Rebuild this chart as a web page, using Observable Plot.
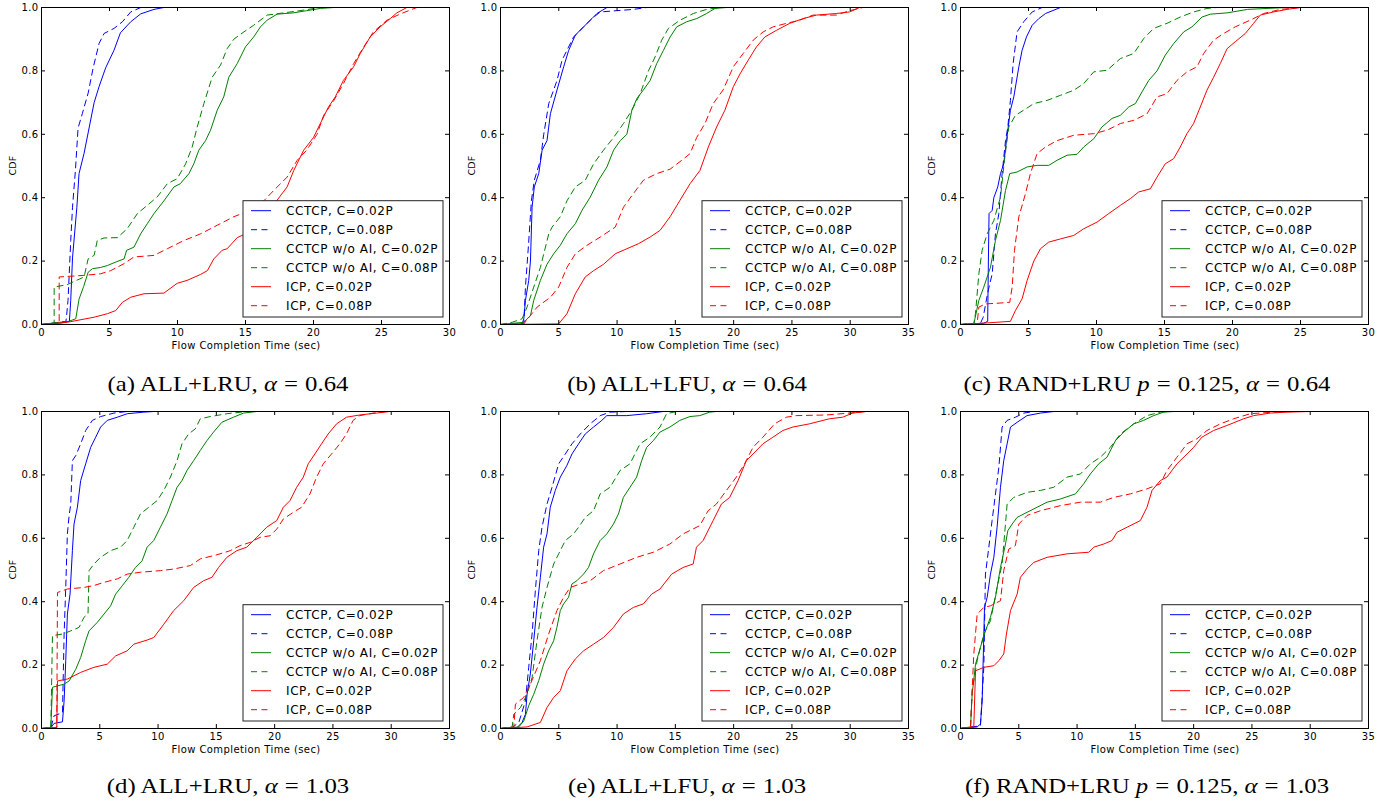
<!DOCTYPE html>
<html><head><meta charset="utf-8">
<script src="https://cdn.jsdelivr.net/npm/d3@7"></script>
<script src="https://cdn.jsdelivr.net/npm/@observablehq/plot@0.6"></script>
<style>
body{margin:0;background:#fff;}
#fig{position:relative;width:1399px;height:806px;overflow:hidden;background:#fff;}
.panel{position:absolute;}
.cap{position:absolute;font-family:"Liberation Serif","Times New Roman",serif;font-size:21px;line-height:21px;white-space:nowrap;transform:translateX(-50%) scaleX(1.18);transform-origin:50% 50%;color:#000;}
.cap .eq{display:inline-block;margin:0 6px;}
</style></head><body><div id="fig"></div><script>
// ---------- data ----------
const seriesNames = ["CCTCP, C=0.02P","CCTCP, C=0.08P","CCTCP w/o AI, C=0.02P","CCTCP w/o AI, C=0.08P","ICP, C=0.02P","ICP, C=0.08P"];
const panelCaptions = ["(a) ALL+LRU, α = 0.64","(b) ALL+LFU, α = 0.64","(c) RAND+LRU p = 0.125, α = 0.64","(d) ALL+LRU, α = 1.03","(e) ALL+LFU, α = 1.03","(f) RAND+LRU p = 0.125, α = 1.03"];
const panelXMax = [30,35,30,35,35,35];
const xTicks30 = [0,5,10,15,20,25,30];
const xTicks35 = [0,5,10,15,20,25,30,35];
const yTicks = [0,0.2,0.4,0.6,0.8,1.0];
const xLabel = "Flow Completion Time (sec)";
const yLabel = "CDF";

// (a) ALL+LRU, alpha=0.64
const a_c02 = [[0,0],[1.5,0.005],[2.05,0.01],[2.15,0.076],[2.28,0.21],[2.6,0.37],[2.76,0.476],[3.13,0.54],[3.5,0.62],[3.87,0.70],[4.23,0.75],[4.72,0.81],[5.33,0.865],[5.8,0.92],[6.56,0.955],[7.3,0.98],[8.27,0.994],[9.0,1.0]];
const a_c08 = [[0,0],[0.9,0.005],[1.8,0.01],[1.85,0.03],[1.95,0.076],[2.15,0.265],[2.28,0.37],[2.5,0.49],[2.69,0.62],[3.0,0.665],[3.43,0.73],[3.8,0.81],[4.23,0.886],[4.6,0.918],[5.33,0.934],[5.95,0.955],[6.56,0.986],[7.3,1.0]];
const a_n02 = [[0,0],[0.9,0.005],[2.0,0.01],[2.52,0.018],[2.76,0.08],[3.1,0.12],[3.43,0.165],[3.74,0.176],[4.35,0.18],[4.84,0.186],[5.46,0.197],[6.07,0.207],[6.26,0.234],[6.8,0.244],[7.29,0.286],[7.78,0.318],[8.27,0.35],[9.0,0.39],[9.74,0.434],[10.2,0.444],[10.84,0.476],[11.2,0.507],[11.57,0.55],[12.06,0.58],[12.43,0.613],[12.92,0.676],[13.4,0.718],[13.77,0.78],[14.39,0.823],[15.0,0.876],[15.6,0.907],[16.1,0.939],[16.59,0.96],[17.32,0.979],[18.5,0.983],[19.5,0.99],[20.5,0.997],[21.5,1.0]];
const a_n08 = [[0,0],[0.93,0.002],[0.93,0.118],[1.9,0.126],[3.13,0.15],[3.43,0.207],[3.87,0.218],[4.1,0.265],[4.6,0.273],[5.58,0.274],[6.3,0.302],[7.05,0.35],[7.78,0.376],[8.5,0.402],[9.25,0.444],[9.98,0.46],[10.6,0.507],[11.08,0.56],[11.45,0.623],[11.94,0.697],[12.55,0.78],[13.16,0.818],[13.65,0.87],[14.14,0.9],[14.88,0.923],[15.6,0.944],[16.59,0.976],[17.8,0.983],[19.0,0.99],[20.5,1.0]];
const a_i02 = [[0,0],[1.9,0.007],[3.87,0.023],[4.84,0.034],[5.46,0.044],[5.95,0.07],[6.56,0.086],[7.54,0.097],[9.0,0.099],[9.98,0.13],[10.7,0.139],[11.7,0.158],[12.2,0.17],[12.67,0.207],[13.28,0.234],[13.65,0.239],[14.39,0.274],[15.0,0.286],[15.6,0.318],[16.34,0.36],[17.32,0.392],[18.06,0.434],[18.55,0.486],[19.28,0.55],[20.0,0.59],[20.5,0.634],[21.1,0.686],[21.6,0.718],[22.2,0.77],[22.95,0.813],[23.44,0.855],[24.17,0.907],[24.9,0.939],[25.64,0.965],[26.13,0.983],[26.86,1.0]];
const a_i08 = [[0,0],[1.3,0.002],[1.3,0.15],[3.13,0.155],[4.35,0.16],[5.09,0.17],[6.07,0.192],[6.8,0.213],[8.27,0.218],[9.25,0.239],[10.47,0.265],[11.7,0.286],[12.92,0.313],[14.14,0.34],[15.37,0.36],[16.34,0.39],[17.08,0.423],[18.06,0.465],[18.8,0.518],[19.5,0.55],[20.26,0.6],[20.75,0.66],[21.5,0.707],[22.2,0.76],[22.95,0.823],[23.7,0.876],[24.4,0.923],[25.4,0.96],[26.4,0.98],[27.6,1.0]];

// (b) ALL+LFU, alpha=0.64
const b_c02 = [[0,0],[1.85,0.002],[2.0,0.018],[2.14,0.076],[2.42,0.139],[2.57,0.2],[2.71,0.37],[2.9,0.434],[3.28,0.476],[3.57,0.55],[3.99,0.58],[4.28,0.665],[4.85,0.74],[5.42,0.813],[5.85,0.865],[6.42,0.913],[7.13,0.939],[7.84,0.965],[8.27,0.981],[9.13,1.0]];
const b_c08 = [[0,0],[2.0,0.002],[2.14,0.118],[2.4,0.25],[2.65,0.39],[2.9,0.455],[3.42,0.518],[3.71,0.6],[4.14,0.697],[4.85,0.77],[5.28,0.834],[5.7,0.865],[6.27,0.907],[7.13,0.939],[7.84,0.965],[8.56,0.986],[9.98,0.99],[11.4,0.994],[12.55,1.0]];
const b_n02 = [[0,0],[2.0,0.007],[2.57,0.028],[2.85,0.076],[3.42,0.139],[3.99,0.19],[4.56,0.223],[5.13,0.25],[5.7,0.286],[6.42,0.318],[6.99,0.36],[7.7,0.402],[8.41,0.455],[9.13,0.497],[9.7,0.55],[10.27,0.58],[10.84,0.6],[11.27,0.676],[11.7,0.713],[12.26,0.74],[12.84,0.77],[13.4,0.823],[13.98,0.865],[14.55,0.907],[15.12,0.939],[15.97,0.955],[16.83,0.965],[17.68,0.981],[18.4,0.997],[19.4,1.0]];
const b_n08 = [[0,0],[1.0,0.007],[1.85,0.018],[2.28,0.055],[2.85,0.118],[3.42,0.18],[4.14,0.286],[4.42,0.307],[5.13,0.34],[5.7,0.39],[6.42,0.434],[7.27,0.455],[7.99,0.507],[8.84,0.55],[9.7,0.59],[10.55,0.634],[11.27,0.676],[11.98,0.728],[12.69,0.8],[13.26,0.844],[13.83,0.897],[14.4,0.934],[15.4,0.96],[16.54,0.981],[17.68,0.994],[18.8,1.0]];
const b_i02 = [[0,0],[4.99,0.002],[5.7,0.034],[6.42,0.097],[7.27,0.15],[7.99,0.17],[8.84,0.19],[9.84,0.223],[10.84,0.239],[11.84,0.255],[12.84,0.276],[13.69,0.297],[14.55,0.34],[15.4,0.392],[16.26,0.444],[17.11,0.486],[17.83,0.56],[18.54,0.623],[19.25,0.676],[19.97,0.75],[20.54,0.79],[21.25,0.834],[21.96,0.876],[22.68,0.907],[23.67,0.928],[24.81,0.95],[25.96,0.965],[27.1,0.976],[28.8,0.981],[29.95,0.986],[30.8,1.0]];
const b_i08 = [[0,0],[2.0,0.002],[3.14,0.055],[4.28,0.086],[4.99,0.118],[5.7,0.18],[6.42,0.223],[7.42,0.25],[8.56,0.276],[9.84,0.307],[10.55,0.37],[11.4,0.413],[12.26,0.455],[13.4,0.476],[14.55,0.49],[15.55,0.518],[16.26,0.539],[16.83,0.59],[17.54,0.634],[18.25,0.697],[19.1,0.74],[19.97,0.813],[20.82,0.855],[21.68,0.897],[22.53,0.923],[23.39,0.939],[24.53,0.95],[25.67,0.96],[26.81,0.976],[28.8,0.976],[29.95,0.99],[31.1,1.0]];

// (c) RAND+LRU p=0.125, alpha=0.64
const c_c02 = [[0,0],[1.71,0.004],[2.0,0.01],[2.05,0.2],[2.1,0.35],[2.33,0.36],[2.45,0.40],[2.74,0.434],[2.94,0.476],[3.18,0.507],[3.38,0.58],[3.67,0.676],[3.92,0.718],[4.29,0.813],[4.53,0.865],[4.85,0.907],[5.27,0.944],[5.76,0.965],[6.25,0.981],[7.35,1.0]];
const c_c08 = [[0,0],[1.47,0.004],[1.67,0.023],[2.0,0.1],[2.33,0.16],[2.57,0.286],[2.82,0.35],[3.06,0.476],[3.31,0.58],[3.48,0.623],[3.67,0.707],[3.87,0.823],[4.16,0.923],[4.65,0.955],[5.27,0.986],[6.0,1.0]];
const c_n02 = [[0,0],[0.98,0.002],[1.35,0.076],[1.71,0.118],[2.2,0.18],[2.57,0.265],[2.94,0.328],[3.31,0.423],[3.62,0.476],[4.16,0.481],[4.9,0.497],[5.63,0.502],[6.49,0.502],[7.1,0.518],[7.84,0.534],[8.57,0.537],[9.06,0.56],[9.8,0.586],[10.4,0.623],[11.14,0.65],[11.76,0.66],[12.37,0.686],[12.86,0.697],[13.35,0.734],[13.84,0.77],[14.45,0.8],[15.06,0.85],[15.67,0.886],[16.41,0.923],[17.02,0.939],[17.76,0.97],[18.37,0.979],[19.6,0.983],[21.1,0.994],[24.0,1.0]];
const c_n08 = [[0,0],[0.98,0.002],[1.1,0.034],[1.35,0.16],[1.59,0.234],[1.96,0.286],[2.45,0.328],[2.94,0.402],[3.23,0.518],[3.55,0.623],[4.04,0.66],[4.65,0.676],[5.39,0.697],[6.37,0.707],[7.35,0.723],[8.33,0.739],[9.06,0.76],[9.8,0.797],[10.78,0.802],[11.76,0.839],[12.74,0.855],[13.47,0.902],[14.2,0.934],[15.18,0.95],[16.16,0.97],[17.14,0.986],[18.12,0.997],[18.86,1.0]];
const c_i02 = [[0,0],[1.96,0.005],[3.67,0.01],[4.04,0.044],[4.53,0.081],[4.9,0.139],[5.39,0.2],[5.88,0.239],[6.49,0.26],[7.35,0.27],[8.33,0.281],[9.06,0.302],[10.04,0.323],[10.9,0.35],[11.76,0.376],[12.49,0.397],[13.1,0.418],[13.96,0.428],[14.45,0.465],[15.06,0.507],[15.67,0.523],[16.16,0.56],[16.65,0.602],[17.14,0.634],[17.63,0.686],[18.12,0.739],[18.61,0.78],[19.1,0.823],[19.6,0.87],[20.2,0.892],[20.94,0.918],[21.55,0.95],[22.04,0.976],[23.02,0.986],[24.0,0.994],[24.98,1.0]];
const c_i08 = [[0,0],[1.22,0.002],[1.35,0.055],[1.84,0.065],[2.69,0.067],[3.62,0.07],[3.8,0.118],[3.97,0.234],[4.29,0.34],[4.78,0.413],[5.14,0.476],[5.63,0.539],[6.25,0.56],[7.1,0.58],[8.33,0.597],[9.8,0.602],[10.78,0.613],[11.76,0.634],[12.74,0.644],[13.72,0.665],[14.45,0.718],[15.18,0.728],[15.92,0.77],[16.65,0.797],[17.39,0.813],[17.88,0.855],[18.61,0.897],[19.35,0.918],[20.2,0.939],[21.3,0.96],[22.29,0.981],[23.51,0.994],[24.98,1.0]];

// (d) ALL+LRU, alpha=1.03
const d_c02 = [[0,0],[0.8,0.002],[1.08,0.016],[1.8,0.021],[1.94,0.087],[2.08,0.214],[2.22,0.361],[2.45,0.424],[2.65,0.561],[2.79,0.645],[3.08,0.698],[3.36,0.782],[3.79,0.835],[4.22,0.887],[4.65,0.919],[5.07,0.951],[5.64,0.972],[6.5,0.982],[7.35,0.993],[8.78,0.998],[9.63,1.0]];
const d_c08 = [[0,0],[0.8,0.002],[1.08,0.04],[1.8,0.05],[1.94,0.298],[2.08,0.445],[2.22,0.614],[2.37,0.672],[2.51,0.708],[2.65,0.845],[2.94,0.861],[3.36,0.898],[3.79,0.94],[4.36,0.972],[5.07,0.984],[6.21,0.995],[7.35,1.0]];
const d_n02 = [[0,0],[0.8,0.002],[0.94,0.13],[1.94,0.14],[2.37,0.15],[2.94,0.187],[3.36,0.224],[3.79,0.277],[4.08,0.308],[4.79,0.335],[5.36,0.361],[5.93,0.387],[6.36,0.424],[6.92,0.45],[7.49,0.477],[8.06,0.508],[8.63,0.529],[9.06,0.572],[9.63,0.593],[10.2,0.635],[10.77,0.677],[11.2,0.719],[11.63,0.761],[12.05,0.782],[12.48,0.814],[13.05,0.845],[13.62,0.877],[14.19,0.908],[14.76,0.935],[15.47,0.966],[16.47,0.982],[17.33,0.995],[18.47,1.0]];
const d_n08 = [[0,0],[0.8,0.002],[0.94,0.293],[1.8,0.298],[2.51,0.308],[3.22,0.319],[3.65,0.351],[3.99,0.361],[4.08,0.498],[4.5,0.519],[5.07,0.54],[5.93,0.561],[6.78,0.572],[7.35,0.593],[7.92,0.635],[8.49,0.677],[9.2,0.698],[9.92,0.719],[10.49,0.751],[11.06,0.793],[11.63,0.845],[12.05,0.898],[12.62,0.929],[13.19,0.945],[13.62,0.977],[14.48,0.984],[15.9,0.993],[17.61,1.0]];
const d_i02 = [[0,0],[1.31,0.003],[1.37,0.15],[2.22,0.156],[3.36,0.177],[4.5,0.193],[5.64,0.203],[6.36,0.229],[7.35,0.245],[7.92,0.266],[9.06,0.279],[9.63,0.287],[10.49,0.329],[11.34,0.372],[12.2,0.403],[13.05,0.445],[13.9,0.466],[14.62,0.477],[15.19,0.508],[15.9,0.54],[16.76,0.561],[17.61,0.572],[18.47,0.603],[19.32,0.635],[20.18,0.656],[20.75,0.698],[21.32,0.719],[21.89,0.761],[22.46,0.793],[22.88,0.835],[23.45,0.866],[24.02,0.898],[24.59,0.929],[25.31,0.961],[26.16,0.982],[27.3,0.989],[28.73,0.995],[29.87,1.0]];
const d_i08 = [[0,0],[1.31,0.003],[1.37,0.429],[2.22,0.44],[3.65,0.445],[4.5,0.451],[5.36,0.461],[6.5,0.472],[7.35,0.487],[8.49,0.493],[10.2,0.498],[11.34,0.503],[12.77,0.514],[13.62,0.535],[15.05,0.548],[16.19,0.561],[17.04,0.577],[17.9,0.587],[18.75,0.603],[19.61,0.608],[20.18,0.629],[20.75,0.661],[21.6,0.682],[22.31,0.698],[23.03,0.74],[23.6,0.793],[24.17,0.835],[24.88,0.866],[25.59,0.898],[26.16,0.929],[26.73,0.972],[27.3,0.987],[28.44,0.995],[29.58,1.0]];

// (e) ALL+LFU, alpha=1.03
const e_c02 = [[0,0],[1.42,0.003],[1.85,0.019],[2.14,0.045],[2.28,0.108],[2.56,0.172],[2.85,0.277],[3.13,0.382],[3.42,0.477],[3.7,0.572],[3.99,0.614],[4.27,0.698],[4.7,0.751],[5.13,0.793],[5.7,0.83],[6.13,0.866],[6.7,0.898],[7.27,0.929],[7.98,0.951],[8.69,0.972],[9.12,0.987],[10.83,0.987],[12.54,0.993],[13.96,1.0]];
const e_c08 = [[0,0],[1.0,0.003],[1.57,0.019],[2.14,0.087],[2.42,0.193],[2.71,0.298],[2.99,0.435],[3.28,0.561],[3.56,0.635],[3.99,0.708],[4.42,0.761],[4.99,0.835],[5.56,0.866],[6.13,0.898],[6.84,0.929],[7.69,0.961],[8.55,0.987],[9.4,0.998],[10.83,1.0]];
const e_n02 = [[0,0],[1.57,0.005],[2.0,0.024],[2.42,0.072],[2.85,0.108],[3.28,0.151],[3.7,0.203],[4.13,0.245],[4.56,0.277],[4.84,0.319],[5.13,0.372],[5.41,0.393],[5.84,0.414],[6.13,0.456],[6.55,0.466],[7.12,0.487],[7.55,0.508],[7.98,0.551],[8.55,0.593],[9.12,0.614],[9.69,0.645],[10.12,0.677],[10.54,0.729],[11.11,0.761],[11.68,0.793],[12.11,0.845],[12.54,0.887],[13.11,0.908],[13.68,0.935],[14.53,0.951],[15.39,0.972],[16.24,0.984],[17.1,0.987],[17.95,0.998],[18.52,1.0]];
const e_n08 = [[0,0],[1.0,0.005],[1.14,0.045],[1.71,0.066],[2.28,0.108],[2.71,0.161],[3.13,0.277],[3.56,0.382],[3.99,0.445],[4.56,0.519],[4.99,0.551],[5.56,0.593],[6.27,0.614],[6.7,0.635],[7.27,0.666],[7.98,0.687],[8.55,0.74],[9.4,0.761],[10.26,0.814],[11.11,0.835],[11.97,0.898],[12.82,0.919],[13.68,0.951],[14.25,0.993],[15.1,1.0]];
const e_i02 = [[0,0],[2.28,0.005],[3.42,0.019],[3.99,0.066],[4.56,0.098],[5.13,0.119],[5.7,0.182],[6.41,0.219],[7.12,0.245],[7.98,0.266],[8.83,0.287],[9.69,0.319],[10.54,0.361],[11.4,0.382],[12.25,0.393],[12.97,0.424],[13.68,0.44],[14.68,0.487],[15.67,0.508],[16.53,0.519],[16.81,0.572],[17.38,0.593],[18.24,0.656],[18.95,0.708],[19.66,0.729],[20.38,0.782],[21.09,0.845],[21.66,0.866],[22.51,0.898],[23.37,0.919],[24.22,0.94],[25.08,0.951],[26.5,0.961],[28.21,0.977],[29.35,0.982],[30.21,0.995],[31.35,1.0]];
const e_i08 = [[0,0],[1.14,0.005],[1.28,0.077],[1.99,0.098],[2.56,0.14],[3.42,0.214],[4.13,0.298],[4.84,0.372],[5.41,0.414],[5.98,0.445],[6.84,0.456],[7.69,0.466],[8.83,0.498],[10.26,0.519],[11.68,0.54],[13.11,0.556],[14.53,0.582],[15.67,0.614],[17.1,0.64],[17.81,0.687],[18.52,0.708],[19.38,0.751],[20.23,0.793],[20.94,0.835],[21.66,0.887],[22.51,0.919],[23.51,0.961],[24.51,0.982],[25.36,0.987],[27.93,0.989],[29.92,0.995],[31.35,1.0]];

// (f) RAND+LRU p=0.125, alpha=1.03
const f_c02 = [[0,0],[1.43,0.005],[1.71,0.014],[1.86,0.087],[2.06,0.382],[2.29,0.414],[2.57,0.487],[2.86,0.54],[3.14,0.635],[3.43,0.761],[3.71,0.845],[4.0,0.898],[4.29,0.951],[4.86,0.966],[5.71,0.987],[6.86,0.995],[8.0,1.0]];
const f_c08 = [[0,0],[0.86,0.005],[1.71,0.008],[2.0,0.193],[2.14,0.487],[2.43,0.572],[2.71,0.656],[3.0,0.74],[3.29,0.824],[3.57,0.951],[4.0,0.972],[4.71,0.982],[5.43,0.995],[6.29,1.0]];
const f_n02 = [[0,0],[0.86,0.005],[1.0,0.108],[1.29,0.203],[1.71,0.256],[2.14,0.308],[2.57,0.351],[3.0,0.414],[3.43,0.508],[3.86,0.582],[4.06,0.624],[4.43,0.645],[4.86,0.666],[5.71,0.682],[6.57,0.698],[7.43,0.714],[8.57,0.724],[9.86,0.74],[10.57,0.772],[11.14,0.803],[11.86,0.835],[12.57,0.856],[13.29,0.908],[14.0,0.935],[14.86,0.961],[15.71,0.972],[16.57,0.987],[17.43,0.998],[18.29,1.0]];
const f_n08 = [[0,0],[0.86,0.005],[1.0,0.119],[1.43,0.214],[2.0,0.298],[2.57,0.34],[3.14,0.445],[3.57,0.519],[4.0,0.708],[4.57,0.729],[5.71,0.745],[6.86,0.751],[8.0,0.761],[9.14,0.793],[10.29,0.803],[11.14,0.835],[12.0,0.856],[12.86,0.887],[13.71,0.929],[14.86,0.961],[16.0,0.987],[17.14,0.998],[18.0,1.0]];
const f_i02 = [[0,0],[1.14,0.005],[1.29,0.182],[2.0,0.193],[2.86,0.198],[3.29,0.214],[3.71,0.235],[3.94,0.298],[4.29,0.372],[4.86,0.424],[5.14,0.477],[5.71,0.503],[6.29,0.524],[7.43,0.54],[9.14,0.551],[11.0,0.556],[11.43,0.572],[12.29,0.582],[13.0,0.593],[13.43,0.619],[14.29,0.635],[15.43,0.656],[16.0,0.698],[16.43,0.751],[17.14,0.782],[17.71,0.793],[18.57,0.835],[19.43,0.866],[20.0,0.887],[20.71,0.919],[21.71,0.94],[22.86,0.956],[24.29,0.977],[25.14,0.987],[26.57,0.995],[28.0,0.998],[30.0,1.0]];
const f_i08 = [[0,0],[0.86,0.005],[1.14,0.235],[1.43,0.361],[2.0,0.382],[2.57,0.387],[3.43,0.403],[3.71,0.498],[4.14,0.566],[4.71,0.577],[5.0,0.645],[5.71,0.672],[6.86,0.687],[8.57,0.703],[10.29,0.714],[12.0,0.714],[13.14,0.729],[14.57,0.74],[16.0,0.756],[17.14,0.772],[17.71,0.814],[18.57,0.856],[19.43,0.898],[20.29,0.914],[21.14,0.94],[22.29,0.961],[23.43,0.977],[24.86,0.993],[26.86,0.998],[28.57,1.0]];

const panelSeries = [
  [a_c02,a_c08,a_n02,a_n08,a_i02,a_i08],
  [b_c02,b_c08,b_n02,b_n08,b_i02,b_i08],
  [c_c02,c_c08,c_n02,c_n08,c_i02,c_i08],
  [d_c02,d_c08,d_n02,d_n08,d_i02,d_i08],
  [e_c02,e_c08,e_n02,e_n08,e_i02,e_i08],
  [f_c02,f_c08,f_n02,f_n08,f_i02,f_i08]
];

// ---------- style / layout ----------
const seriesColor = ["#0000ff","#0000ff","#008000","#008000","#ff0000","#ff0000"];
const seriesDash = [null,"6,4.5",null,"6,4.5",null,"6,4.5"];
const W = 460, H = 360, ML = 41, MR = 11, MT = 7, MB = 36;
const PW = W - ML - MR, PH = H - MT - MB; // 408 x 317
const colLeft = [0,459,919];
const rowTop = [0,404];
const capCX = [228,687,1147];
const capTop = [374,776];
const TICK = 4;

const fig = document.getElementById("fig");

panelSeries.forEach((series, i) => {
  const col = i % 3, row = Math.floor(i / 3);
  const xTicks = panelXMax[i] === 30 ? xTicks30 : xTicks35;
  const lines = series.map((pts, k) => Plot.line(pts, {
    x: d => d[0], y: d => d[1],
    stroke: seriesColor[k], strokeWidth: 1, strokeDasharray: seriesDash[k] || undefined
  }));
  const svg = Plot.plot({
    width: W, height: H, marginLeft: ML, marginRight: MR, marginTop: MT, marginBottom: MB,
    x: {domain: [0, panelXMax[i]]},
    y: {domain: [0, 1]},
    style: {fontFamily: "'DejaVu Sans', sans-serif", fontSize: "10px", letterSpacing: "0.4px", color: "#000", background: "transparent", overflow: "visible"},
    marks: [
      ...lines,
      Plot.ruleX(xTicks, {x: d => d, insetTop: PH - TICK, stroke: "#000"}),
      Plot.ruleX(xTicks, {x: d => d, insetBottom: PH - TICK, stroke: "#000"}),
      Plot.ruleY(yTicks, {y: d => d, insetRight: PW - TICK, stroke: "#000"}),
      Plot.ruleY(yTicks, {y: d => d, insetLeft: PW - TICK, stroke: "#000"}),
      Plot.frame({stroke: "#000", strokeWidth: 1}),
      Plot.axisX(xTicks, {tickSize: 0, tickPadding: 4, label: null, tickFormat: d => String(d)}),
      Plot.axisY(yTicks, {tickSize: 0, tickPadding: 3, label: null, tickFormat: d3.format(".1f")})
    ]
  });
  const s = d3.select(svg);
  // axis titles
  s.append("text").attr("x", ML + PW / 2 + 1).attr("y", MT + PH + 21)
    .attr("text-anchor", "middle").attr("dominant-baseline", "central")
    .attr("font-size", 10).attr("fill", "#000").text(xLabel);
  s.append("text").attr("transform", `translate(12,${MT + PH / 2}) rotate(-90)`)
    .attr("text-anchor", "middle").attr("dominant-baseline", "central")
    .attr("font-size", 9.5).attr("letter-spacing", "0.2px").attr("fill", "#000").text(yLabel);
  // legend
  const lg = s.append("g").attr("transform", `translate(${ML + 202},${MT + 193.7})`);
  lg.append("rect").attr("x", 0).attr("y", 0).attr("width", 200).attr("height", 116.3)
    .attr("fill", "#fff").attr("stroke", "#222").attr("stroke-width", 1);
  seriesNames.forEach((name, k) => {
    const yy = 10 + 19 * k;
    lg.append("line").attr("x1", 8).attr("x2", 28).attr("y1", yy).attr("y2", yy)
      .attr("stroke", seriesColor[k]).attr("stroke-width", 1)
      .attr("stroke-dasharray", seriesDash[k]);
    lg.append("text").attr("x", 43).attr("y", yy).attr("dominant-baseline", "central")
      .attr("text-anchor", "start")
      .attr("font-size", 12).attr("letter-spacing", "0.6px").attr("fill", "#000").text(name);
  });
  const wrap = document.createElement("div");
  wrap.className = "panel";
  wrap.style.left = colLeft[col] + "px";
  wrap.style.top = rowTop[row] + "px";
  wrap.appendChild(svg);
  fig.appendChild(wrap);

  const cap = document.createElement("div");
  cap.className = "cap";
  cap.style.left = capCX[col] + "px";
  cap.style.top = capTop[row] + "px";
  cap.innerHTML = panelCaptions[i]
    .replace(/ = /g, '<span class="eq">=</span>')
    .replace(/α/g, "<i>α</i>")
    .replace(/\bp\b/g, "<i>p</i>");
  fig.appendChild(cap);
});
</script></body></html>
